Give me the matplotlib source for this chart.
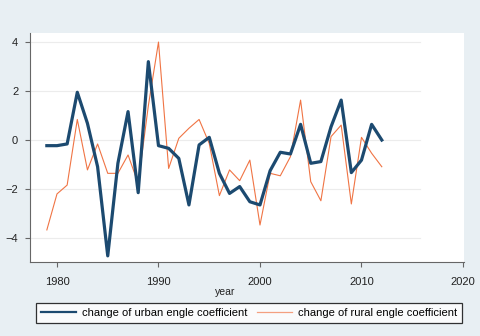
import numpy as np
import matplotlib
matplotlib.use("Agg")
import matplotlib.pyplot as plt

plt.rcParams['font.family'] = ['Liberation Sans', 'DejaVu Sans']

years = list(range(1979, 2013))
urban = [-0.23, -0.23, -0.16, 1.95, 0.68, -1.09, -4.73, -0.95, 1.16, -2.15,
         3.2, -0.23, -0.34, -0.75, -2.65, -0.2, 0.11, -1.36, -2.18, -1.9,
         -2.52, -2.65, -1.25, -0.5, -0.57, 0.64, -0.95, -0.88, 0.54, 1.63,
         -1.33, -0.82, 0.64, 0.0]
rural = [-3.67, -2.2, -1.84, 0.84, -1.22, -0.16, -1.36, -1.36, -0.61, -1.77,
         1.4, 4.0, -1.16, 0.07, 0.48, 0.84, -0.14, -2.27, -1.22, -1.66,
         -0.82, -3.47, -1.36, -1.46, -0.68, 1.63, -1.7, -2.48, 0.14, 0.61,
         -2.61, 0.11, -0.54, -1.09]
yticks = [-4, -2, 0, 2, 4]
xticks = [1980, 1990, 2000, 2010, 2020]

bg = '#e8eff3'
navy = '#1c4a70'
orange = '#f07444'

fig = plt.figure(figsize=(4.8, 3.36), dpi=100, facecolor=bg)
ax = fig.add_axes([30 / 480, 1 - 262 / 336, 434 / 480, 229.5 / 336])
ax.set_facecolor('white')

ax.set_xlim(1977.34, 2020.1)
ax.set_ylim(-4.98, 4.39)

# gridlines stop short of the right edge
for v in yticks:
    ax.plot([1977.34, 2015.8], [v, v], color='#ececec', lw=0.8, zorder=1)

ax.plot(years, urban, color=navy, lw=2.3, label='change of urban engle coefficient', zorder=3)
ax.plot(years, rural, color=orange, lw=0.8, label='change of rural engle coefficient', zorder=2)

for s in ['top', 'right']:
    ax.spines[s].set_visible(False)
for s in ['left', 'bottom']:
    ax.spines[s].set_color('#666666')
    ax.spines[s].set_linewidth(0.8)

ax.set_xticks(xticks)
ax.set_yticks(yticks)
ax.tick_params(axis='both', direction='out', length=3.5, width=0.8, color='#666666',
               labelsize=8, labelcolor='#222222')
ax.tick_params(axis='x', pad=7)
ax.tick_params(axis='y', pad=5)

fig.text(225 / 480, 1 - 292 / 336, 'year', fontsize=7.5, color='#222222',
         ha='center', va='center')

handles, labels = ax.get_legend_handles_labels()
leg = fig.legend(handles, labels, loc='center', ncol=2,
                 bbox_to_anchor=(249 / 480, 1 - 312.5 / 336),
                 fontsize=8, frameon=True, fancybox=False, borderaxespad=0,
                 handlelength=3.1, handletextpad=0.55, columnspacing=0.9,
                 borderpad=0.45)
leg.get_frame().set_edgecolor('black')
leg.get_frame().set_linewidth(0.9)
leg.get_lines()[0].set_linewidth(1.6)
leg.get_lines()[1].set_linewidth(0.9)
leg.get_lines()[1].set_color('#f4a080')

fig.savefig('out.png', dpi=100, facecolor=bg)
